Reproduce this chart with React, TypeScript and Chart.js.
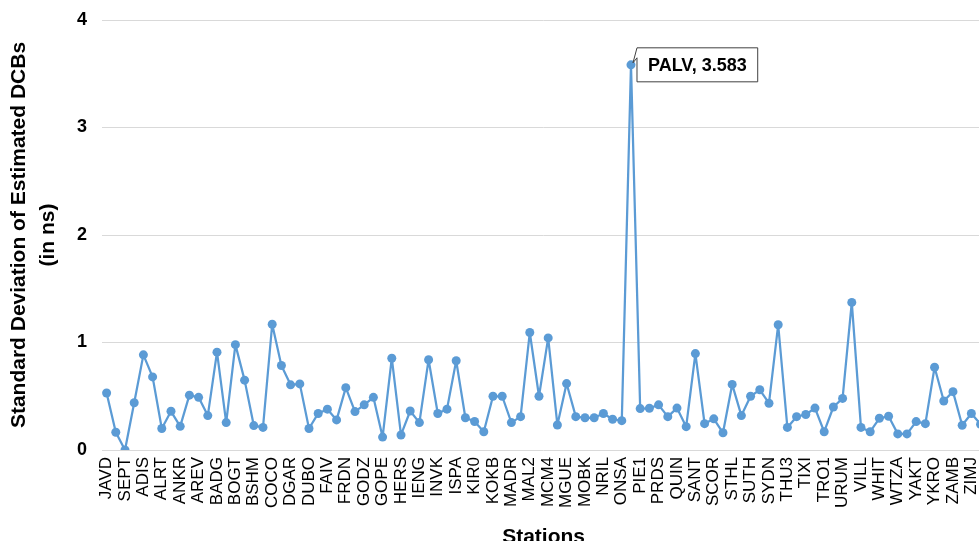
import React, { useEffect, useRef } from 'react';
import { Chart, registerables } from 'chart.js';

Chart.register(...registerables);

const stations = [
  'JAVD', 'LHAZ', 'SEPT', 'ABPO', 'ADIS', 'AJAC', 'ALRT', 'AMC2', 'ANKR', 'AREQ',
  'AREV', 'ASCG', 'BADG', 'BJFS', 'BOGT', 'BRAZ', 'BSHM', 'CHPI', 'COCO', 'DAEJ',
  'DGAR', 'DRAO', 'DUBO', 'FAA1', 'FAIV', 'FLIN', 'FRDN', 'GLPS', 'GODZ', 'GOLD',
  'GOPE', 'GUAM', 'HERS', 'HRAO', 'IENG', 'IISC', 'INVK', 'IRKJ', 'ISPA', 'KARR',
  'KIR0', 'KIRU', 'KOKB', 'LHAS', 'MADR', 'MAG0', 'MAL2', 'MAW1', 'MCM4', 'MDO1',
  'MGUE', 'MIZU', 'MOBK', 'NKLG', 'NRIL', 'NTUS', 'ONSA', 'PALV', 'PIE1', 'POL2',
  'PRDS', 'PTBB', 'QUIN', 'RAMO', 'SANT', 'SCH2', 'SCOR', 'SFER', 'STHL', 'STJO',
  'SUTH', 'SUWN', 'SYDN', 'THTI', 'THU3', 'TIDB', 'TIXI', 'TOW2', 'TRO1', 'TSKB',
  'URUM', 'USNO', 'VILL', 'WES2', 'WHIT', 'WSRT', 'WTZA', 'XMIS', 'YAKT', 'YELL',
  'YKRO', 'YSSK', 'ZAMB', 'ZECK', 'ZIMJ', 'ZIMM',
];

const stdDev = [
  0.53, 0.165, 0.0, 0.44, 0.885, 0.68, 0.2, 0.36, 0.22, 0.51,
  0.49, 0.32, 0.91, 0.255, 0.98, 0.65, 0.227, 0.21, 1.17, 0.786,
  0.606, 0.615, 0.2, 0.34, 0.38, 0.28, 0.58, 0.357, 0.42, 0.49,
  0.12, 0.854, 0.14, 0.363, 0.255, 0.84, 0.34, 0.38, 0.83, 0.3,
  0.265, 0.17, 0.5, 0.5, 0.255, 0.31, 1.093, 0.5, 1.043, 0.233,
  0.618, 0.31, 0.3, 0.3, 0.34, 0.286, 0.273, 3.583, 0.385, 0.388,
  0.42, 0.31, 0.39, 0.217, 0.897, 0.245, 0.29, 0.16, 0.61, 0.32,
  0.5, 0.56, 0.435, 1.165, 0.21, 0.31, 0.33, 0.39, 0.17, 0.4,
  0.48, 1.373, 0.21, 0.17, 0.295, 0.314, 0.15, 0.15, 0.264, 0.245,
  0.77, 0.456, 0.543, 0.23, 0.34, 0.24,
];

const yTicks = [0, 1, 2, 3, 4];

const FONT = "'Liberation Sans', Arial, sans-serif";
const BLUE = '#5B9BD5';

const calloutPlugin = {
  id: 'peakCallout',
  afterDatasetsDraw(chart: any) {
    const values = chart.data.datasets[0].data as number[];
    let idx = 0;
    values.forEach((v, i) => {
      if (v > values[idx]) idx = i;
    });
    const pt = chart.getDatasetMeta(0).data[idx];
    if (!pt) return;
    const px = pt.x;
    const py = pt.y;
    const ctx = chart.ctx as CanvasRenderingContext2D;
    const text = `${chart.data.labels[idx]}, ${values[idx].toFixed(3)}`;
    ctx.save();
    ctx.font = `bold 18px ${FONT}`;
    const tw = ctx.measureText(text).width;
    const bx = px + 6;
    const by = py - 17;
    const bw = tw + 22;
    const bh = 34;
    ctx.beginPath();
    ctx.moveTo(bx, by);
    ctx.lineTo(bx + bw, by);
    ctx.lineTo(bx + bw, by + bh);
    ctx.lineTo(bx, by + bh);
    ctx.lineTo(bx, by + 10);
    ctx.lineTo(px + 2, py - 2);
    ctx.closePath();
    ctx.fillStyle = '#ffffff';
    ctx.fill();
    ctx.strokeStyle = '#404040';
    ctx.lineWidth = 1;
    ctx.stroke();
    ctx.fillStyle = '#000000';
    ctx.textAlign = 'center';
    ctx.textBaseline = 'middle';
    ctx.fillText(text, bx + bw / 2, by + bh / 2 + 1);
    ctx.restore();
  },
};

export default function App() {
  const ref = useRef<HTMLCanvasElement>(null);

  useEffect(() => {
    if (!ref.current) return;
    const chart = new Chart(ref.current, {
      type: 'line',
      data: {
        labels: stations,
        datasets: [
          {
            data: stdDev,
            borderColor: BLUE,
            backgroundColor: BLUE,
            pointBackgroundColor: BLUE,
            pointBorderColor: BLUE,
            pointRadius: 4.5,
            pointBorderWidth: 0,
            borderWidth: 2.25,
            borderJoinStyle: 'round',
            tension: 0,
          },
        ],
      },
      options: {
        animation: false,
        responsive: false,
        layout: { padding: { top: 20, left: 0, right: 0, bottom: 0 } },
        plugins: {
          legend: { display: false },
          tooltip: { enabled: false },
        },
        scales: {
          x: {
            type: 'category',
            offset: true,
            grid: { display: false, drawTicks: false },
            border: { display: false },
            ticks: {
              autoSkip: false,
              minRotation: 90,
              maxRotation: 90,
              padding: 7,
              color: '#000000',
              font: { family: FONT, size: 17 },
              callback: (_v: any, i: number) => (i % 2 === 0 ? stations[i] : ''),
            },
            title: {
              display: true,
              text: 'Stations',
              color: '#000000',
              font: { family: FONT, size: 21, weight: 'bold' },
              padding: { top: 0, bottom: 0 },
            },
            afterFit: (s: any) => {
              s.height = 100;
            },
          },
          y: {
            min: 0,
            max: 4,
            afterBuildTicks: (s: any) => {
              s.ticks = yTicks.map((v) => ({ value: v }));
            },
            ticks: {
              padding: 2,
              color: '#000000',
              font: { family: FONT, size: 18, weight: 'bold' },
            },
            grid: {
              color: '#D9D9D9',
              lineWidth: 1,
              drawTicks: true,
              tickLength: 13,
              tickColor: 'rgba(0,0,0,0)',
            },
            border: { display: false },
            title: {
              display: true,
              text: ['Standard Deviation of Estimated DCBs', '(in ns)'],
              color: '#000000',
              font: { family: FONT, size: 21, weight: 'bold', lineHeight: 1.38 },
              padding: { top: 5, bottom: 0 },
            },
            afterFit: (s: any) => {
              s.width = 102;
            },
          },
        },
      } as any,
      plugins: [calloutPlugin],
    });
    return () => chart.destroy();
  }, []);

  return (
    <div
      style={{
        position: 'fixed',
        left: 0,
        top: 0,
        width: 979,
        height: 541,
        overflow: 'hidden',
        background: '#ffffff',
      }}
    >
      <canvas ref={ref} width={1008} height={550} style={{ display: 'block' }} />
    </div>
  );
}
